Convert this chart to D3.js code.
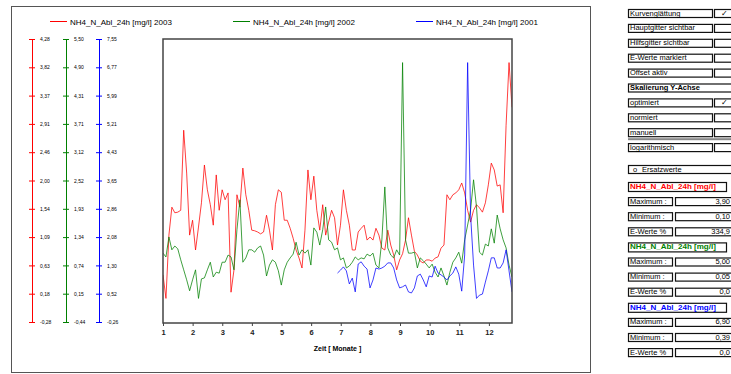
<!DOCTYPE html>
<html>
<head>
<meta charset="utf-8">
<script src="https://cdn.jsdelivr.net/npm/d3@7"></script>
<style>
  body { margin: 0; background: #fff; }
  svg { display: block; font-family: "Liberation Sans", Arial, sans-serif; }
</style>
</head>
<body>
<svg id="chart" width="731" height="374"></svg>
<script>
// time axis (months), samples evenly spaced between first and last month value
const monthFirst = 1;
const monthLast = 12.78;
const sampleCount = 119;
const monthTicks = [1, 2, 3, 4, 5, 6, 7, 8, 9, 10, 11, 12];

const seriesNames = ["NH4_N_Abl_24h [mg/l] 2003", "NH4_N_Abl_24h [mg/l] 2002", "NH4_N_Abl_24h [mg/l] 2001"];

// NH4 2003 (red)
const values2003 = [
  0.48, 0.10, 1.12, 1.57, 1.48, 1.49, 1.52, 2.81, 2.12, 1.12,
  1.36, 0.88, 1.25, 1.64, 2.25, 1.85, 1.61, 1.28, 2.09, 1.52,
  1.85, 1.69, 1.80, 0.20, 0.56, 1.77, 1.57, 2.20, 1.77, 1.52,
  1.20, 1.19, 1.17, 1.14, 1.17, 1.44, 1.20, 0.88, 1.61, 1.85,
  1.81, 1.36, 1.36, 1.23, 1.07, 0.88, 0.75, 0.59, 1.20, 2.17,
  1.69, 2.07, 1.52, 1.20, 1.61, 1.12, 1.33, 1.52, 1.40, 0.96,
  1.28, 1.85, 1.52, 1.28, 0.88, 0.88, 1.17, 1.23, 1.28, 1.04,
  1.09, 1.04, 1.23, 1.12, 0.91, 0.88, 1.20, 0.96, 0.80, 0.56,
  0.72, 0.82, 1.04, 1.40, 1.12, 0.86, 0.80, 0.70, 0.67, 0.72,
  0.72, 0.70, 0.75, 0.77, 0.91, 0.96, 1.77, 1.69, 1.77, 1.80,
  1.85, 1.96, 1.80, 1.52, 1.33, 1.52, 1.61, 1.56, 1.49, 1.64,
  1.93, 2.28, 2.17, 1.91, 1.93, 1.48, 2.89, 3.90, 3.18
];

// NH4 2002 (green)
const values2002 = [
  1.00, 0.92, 1.34, 1.07, 1.15, 1.09, 0.86, 0.65, 0.44, 0.21,
  0.44, 0.65, 0.05, 0.46, 0.48, 0.65, 0.81, 0.50, 0.60, 0.58,
  0.81, 0.81, 0.96, 0.92, 0.65, 1.49, 2.12, 0.81, 0.90, 1.07,
  1.07, 1.02, 1.11, 1.15, 0.96, 0.52, 0.75, 0.86, 0.81, 0.63,
  0.33, 0.65, 0.81, 0.90, 0.98, 1.23, 0.96, 1.07, 1.00, 1.07,
  0.75, 1.53, 1.44, 1.17, 1.49, 1.97, 1.28, 1.23, 1.07, 1.11,
  0.86, 0.90, 0.69, 0.73, 0.81, 0.92, 0.86, 0.90, 0.88, 0.98,
  0.94, 1.00, 0.75, 0.69, 1.28, 2.39, 1.11, 0.96, 0.90, 1.07,
  0.96, 5.00, 1.28, 1.00, 1.00, 1.02, 0.69, 0.90, 0.84, 0.77,
  0.69, 0.77, 0.60, 0.50, 0.69, 0.52, 0.33, 0.60, 0.81, 0.90,
  1.02, 0.79, 1.28, 1.59, 1.91, 2.54, 1.97, 1.02, 0.96, 1.19,
  1.15, 1.51, 1.21, 1.80, 1.51, 1.28, 1.11, 0.75, 0.50
];

// NH4 2001 (blue), begins at sample 59
const start2001 = 59;
const values2001 = [
  1.09, 1.17, 1.26, 1.15, 0.79, 0.95, 0.57, 1.34, 1.40, 1.28,
  1.20, 0.68, 0.90, 1.23, 1.20, 1.23, 1.28, 1.37, 1.37, 1.23,
  0.90, 0.68, 0.71, 0.76, 0.57, 0.54, 0.68, 1.01, 1.06, 0.90,
  0.71, 1.01, 0.98, 1.28, 1.09, 1.04, 0.98, 0.90, 1.01, 1.09,
  1.26, 1.06, 0.59, 1.59, 6.90, 2.69, 1.31, 0.39, 0.48, 0.51,
  0.84, 1.15, 1.51, 1.51, 1.23, 1.23, 1.37, 1.73, 1.15, 0.57
];

// y axes: domain ends and printed tick labels
const domain2003 = [-0.28, 4.28];
const domain2002 = [-0.445, 5.495];
const domain2001 = [-0.261, 7.551];
const ticks2003 = ["-0,28", "0,18", "0,63", "1,09", "1,54", "2,00", "2,46", "2,91", "3,37", "3,82", "4,28"];
const ticks2002 = ["-0,44", "0,15", "0,74", "1,34", "1,93", "2,52", "3,12", "3,71", "4,31", "4,90", "5,50"];
const ticks2001 = ["-0,26", "0,52", "1,30", "2,08", "2,86", "3,65", "4,43", "5,21", "5,99", "6,77", "7,55"];

// side panel texts
const optionLabels = ["Kurvenglättung", "Hauptgitter sichtbar", "Hilfsgitter sichtbar", "E-Werte markiert", "Offset aktiv"];
const optionChecked = [true, false, false, false, false];
const scaleTitle = "Skalierung  Y-Achse";
const scaleLabels = ["optimiert", "normiert", "manuell", "logarithmisch"];
const scaleChecked = [true, false, false, false];
const statHeader = "NH4_N_Abl_24h [mg/l]";
const statLabels = ["Maximum :", "Minimum  :", "E-Werte %"];
const statMax = ["3,90", "5,00", "6,90"];
const statMin = ["0,10", "0,05", "0,39"];
const statE = ["334,9", "0,0", "0,0"];

const colors = ["#ff0000", "#008000", "#0000ff"];

const svg = d3.select("#chart");

// outer frame
svg.append("rect")
  .attr("x", 11.5).attr("y", 6.5).attr("width", 579).attr("height", 366)
  .attr("fill", "none").attr("stroke", "#555").attr("stroke-width", 1);

const plot = { left: 163, top: 39, right: 512, bottom: 322 };

const times = d3.range(sampleCount).map(i => monthFirst + i * (monthLast - monthFirst) / (sampleCount - 1));

const x = d3.scaleLinear().domain([monthFirst, monthLast]).range([plot.left, plot.right]);

const yScales = [domain2003, domain2002, domain2001].map(dm =>
  d3.scaleLinear().domain(dm).range([plot.bottom, plot.top]));

// legend
const legendX = [50, 233, 416];
seriesNames.forEach((name, i) => {
  svg.append("line")
    .attr("x1", legendX[i]).attr("x2", legendX[i] + 17)
    .attr("y1", 21.5).attr("y2", 21.5)
    .attr("stroke", colors[i]).attr("stroke-width", 1);
  svg.append("text")
    .attr("x", legendX[i] + 20).attr("y", 24.5)
    .attr("font-size", "8px").attr("fill", "#000")
    .text(name);
});

// left y axes
const axisX = [32, 66, 99];
[ticks2003, ticks2002, ticks2001].forEach((labels, i) => {
  const y = yScales[i];
  const dm = y.domain();
  const vals = d3.range(labels.length).map(k => dm[0] + k * (dm[1] - dm[0]) / (labels.length - 1));
  const g = svg.append("g").attr("transform", `translate(${axisX[i]},0)`);
  g.call(d3.axisRight(y).tickValues(vals).tickSize(3).tickPadding(5)
    .tickFormat((d, k) => labels[k]));
  g.append("g").call(d3.axisLeft(y).tickValues(vals).tickSize(3).tickFormat(""));
  g.selectAll(".domain").attr("stroke", colors[i]).attr("stroke-width", 1);
  g.selectAll("line").attr("stroke", colors[i]);
  g.selectAll("text").attr("font-size", "5px").attr("fill", "#000")
    .attr("font-family", "'Liberation Sans', Arial, sans-serif");
  g.selectAll("path.domain").attr("d", `M0.5,${plot.top}V${plot.bottom}`);
});

// series lines
svg.append("clipPath").attr("id", "plotclip").append("rect")
  .attr("x", plot.left).attr("y", plot.top)
  .attr("width", plot.right - plot.left).attr("height", plot.bottom - plot.top);

const seriesData = [
  { values: values2003, offset: 0 },
  { values: values2002, offset: 0 },
  { values: values2001, offset: start2001 }
];
seriesData.forEach((s, i) => {
  const line = d3.line()
    .x((d, k) => x(times[k + s.offset]))
    .y(d => yScales[i](d));
  svg.append("path")
    .datum(s.values)
    .attr("clip-path", "url(#plotclip)")
    .attr("fill", "none")
    .attr("stroke", colors[i])
    .attr("stroke-opacity", 0.75)
    .attr("stroke-width", 1)
    .attr("d", line);
});

// plot frame
svg.append("rect")
  .attr("x", plot.left).attr("y", plot.top)
  .attr("width", plot.right - plot.left).attr("height", plot.bottom - plot.top + 1)
  .attr("fill", "none").attr("stroke", "#444").attr("stroke-width", 1.5);

// x axis
const xAxis = svg.append("g")
  .attr("transform", `translate(0,${plot.bottom + 1})`)
  .call(d3.axisBottom(x).tickValues(monthTicks).tickSize(3).tickPadding(4).tickFormat(d3.format("d")));
xAxis.select(".domain").remove();
xAxis.selectAll("line").attr("stroke", "#444");
xAxis.selectAll("text").attr("font-size", "7.5px").attr("font-weight", "bold").attr("fill", "#222")
  .attr("font-family", "'Liberation Sans', Arial, sans-serif");

svg.append("text")
  .attr("x", (plot.left + plot.right) / 2).attr("y", 351)
  .attr("text-anchor", "middle").attr("font-size", "7px").attr("font-weight", "bold")
  .text("Zeit [ Monate ]");

// side panel
const panel = svg.append("g");
const boxL = 628, boxR = 712, chkL = 714, panelR = 737, rowH = 8;
const optPitch = 14.9, statPitch = 15.1;

function box(x0, y0, w, h) {
  panel.append("rect").attr("x", x0 + 0.5).attr("y", y0 + 0.5).attr("width", w).attr("height", h)
    .attr("fill", "#fff").attr("stroke", "#111").attr("stroke-width", 1.2);
}
function label(x0, y0, txt, opts = {}) {
  panel.append("text").attr("x", x0).attr("y", y0 + rowH - 1.5)
    .attr("font-size", opts.size || "7.5px")
    .attr("font-weight", opts.bold ? "bold" : "normal")
    .attr("fill", opts.color || "#000")
    .attr("text-anchor", opts.anchor || "start")
    .text(txt);
}

optionLabels.forEach((t, i) => {
  const yy = 9 + i * optPitch;
  box(boxL, yy, boxR - boxL, rowH);
  box(chkL, yy, panelR - chkL, rowH);
  label(boxL + 2, yy, t);
  if (optionChecked[i]) label(724, yy, "✓", { anchor: "middle" });
});
{
  const yy = 9 + 5 * optPitch;
  box(boxL, yy, panelR - boxL, rowH);
  label(boxL + 2, yy, scaleTitle, { bold: true });
}
scaleLabels.forEach((t, i) => {
  const yy = 9 + (6 + i) * optPitch;
  box(boxL, yy, boxR - boxL, rowH);
  box(chkL, yy, panelR - chkL, rowH);
  label(boxL + 2, yy, t);
  if (scaleChecked[i]) label(724, yy, "✓", { anchor: "middle" });
});
panel.append("rect").attr("x", boxL).attr("y", 9 + 8 * optPitch + rowH + 2)
  .attr("width", panelR - boxL).attr("height", 2).attr("fill", "#888");

box(boxL, 165, panelR - boxL, rowH);
label(boxL + 5, 165, "o");
label(boxL + 14, 165, "Ersatzwerte");

const statValues = [statMax, statMin, statE];
colors.forEach((c, s) => {
  const base = 182 + s * 4 * statPitch;
  box(boxL, base, 726 - boxL, rowH + 1);
  label(boxL + 2, base + 0.5, statHeader, { bold: true, color: c, size: "8px" });
  statLabels.forEach((t, k) => {
    const yy = base + (k + 1) * statPitch;
    box(boxL, yy, 672 - boxL, rowH);
    box(675, yy, panelR - 675, rowH);
    label(boxL + 2, yy, t);
    label(730, yy, statValues[k][s], { anchor: "end" });
  });
});
</script>
</body>
</html>
